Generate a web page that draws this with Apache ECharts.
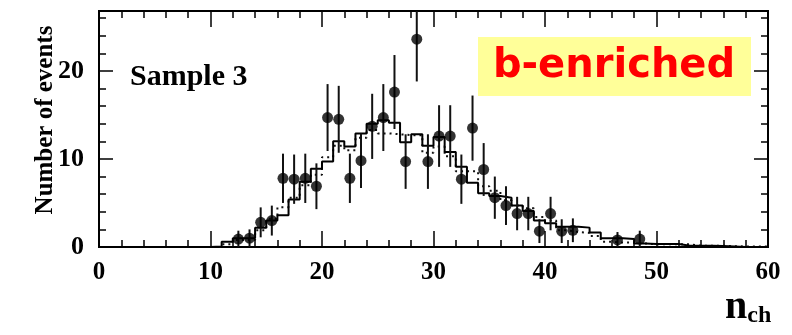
<!DOCTYPE html>
<html>
<head>
<meta charset="utf-8">
<script src="https://cdn.jsdelivr.net/npm/echarts@6/dist/echarts.min.js"></script>
<style>
  html, body { margin: 0; padding: 0; background: #fff; }
  #chart { width: 792px; height: 335px; }
</style>
</head>
<body>
<div id="chart"></div>
<script>
// bin left edges 0..59, width 1
const binEdges = [
  0, 1, 2, 3, 4, 5, 6, 7, 8, 9, 10, 11, 12, 13, 14, 15, 16, 17, 18, 19,
  20, 21, 22, 23, 24, 25, 26, 27, 28, 29, 30, 31, 32, 33, 34, 35, 36, 37, 38, 39,
  40, 41, 42, 43, 44, 45, 46, 47, 48, 49, 50, 51, 52, 53, 54, 55, 56, 57, 58, 59
];
// solid histogram (prediction)
const mcSolid = [
  0, 0, 0, 0, 0, 0, 0, 0, 0, 0, 0.05, 0.6, 1.0, 1.0, 2.2, 3.0, 3.6, 5.4, 7.4, 8.9,
  9.7, 12.0, 11.4, 12.9, 14.0, 14.4, 14.1, 11.9, 12.8, 11.5, 12.5, 10.8, 9.1, 7.3, 6.1, 5.8, 5.6, 4.7, 4.1, 3.0,
  2.7, 2.3, 2.3, 2.2, 1.65, 1.0, 1.0, 0.9, 0.4, 0.35, 0.35, 0.35, 0.15, 0.15, 0.15, 0.1, 0.05, 0, 0, 0
];
// dotted histogram
const mcDotted = [
  0, 0, 0, 0, 0, 0, 0, 0, 0, 0, 0, 0.3, 0.8, 0.8, 1.9, 3.2, 4.5, 5.6, 7.0, 8.2,
  10.2, 11.5, 11.0, 12.4, 13.3, 12.9, 12.8, 12.7, 12.7, 10.7, 11.4, 10.3, 8.6, 8.6, 6.9, 6.4, 5.3, 4.7, 4.4, 3.4,
  3.0, 1.9, 1.7, 1.6, 1.25, 0.6, 0.5, 0.5, 0.4, 0.3, 0.3, 0.3, 0.3, 0.15, 0.15, 0.15, 0.1, 0.05, 0.05, 0.05
];
// data points
const dataX = [
  12.5, 13.5, 14.5, 15.5, 16.5, 17.5, 18.5, 19.5, 20.5, 21.5, 22.5, 23.5, 24.5, 25.5, 26.5, 27.5,
  28.5, 29.5, 30.5, 31.5, 32.5, 33.5, 34.5, 35.5, 36.5, 37.5, 38.5, 39.5, 40.5, 41.5, 42.5, 46.5, 48.5
];
const dataY = [
  0.9, 1.0, 2.8, 3.0, 7.8, 7.7, 7.8, 6.9, 14.7, 14.5, 7.8, 9.8, 13.7, 14.7, 17.6, 9.7,
  23.6, 9.7, 12.6, 12.6, 7.7, 13.5, 8.8, 5.6, 4.7, 3.8, 3.8, 1.8, 3.8, 1.8, 1.9, 0.8, 0.9
];
const dataErr = [
  0.95, 1.0, 1.7, 1.7, 2.8, 2.8, 2.8, 2.6, 3.8, 3.8, 2.8, 3.1, 3.7, 3.8, 4.2, 3.1,
  4.8, 3.1, 3.5, 3.5, 2.8, 3.7, 3.0, 2.4, 2.2, 1.9, 1.9, 1.35, 1.9, 1.35, 1.35, 0.9, 0.95
];
const xTicks = ["0", "10", "20", "30", "40", "50", "60"];
const yTicks = ["0", "10", "20"];

const X_MAX = 60;
const Y_MAX = 26.8;
const serif = "Liberation Serif";

function histLine(vals) {
  let pts = binEdges.map((e, i) => [e, vals[i]]);
  pts.push([X_MAX, vals[vals.length - 1]]);
  return pts;
}

let chartDom = document.getElementById("chart");
let myChart = echarts.init(chartDom, null, { renderer: "canvas" });

let axisLine = { show: true, onZero: false, lineStyle: { color: "#000", width: 2 } };

function makeX(interval, tickLen, pos, labels) {
  return {
    type: "value",
    min: 0,
    max: X_MAX,
    interval: interval,
    position: pos,
    axisLine: axisLine,
    axisTick: { show: true, inside: true, length: tickLen, lineStyle: { color: "#000", width: 1.5 } },
    axisLabel: labels
      ? {
        show: true,
        margin: 13,
        color: "#000",
        fontFamily: serif,
        fontWeight: "bold",
        fontSize: 25,
        formatter: (v) => (xTicks.indexOf(String(v)) >= 0 ? String(v) : ""),
      }
      : { show: false },
    splitLine: { show: false },
  };
}

function makeY(interval, tickLen, pos, labels) {
  return {
    type: "value",
    min: 0,
    max: Y_MAX,
    interval: interval,
    position: pos,
    axisLine: axisLine,
    axisTick: { show: true, inside: true, length: tickLen, lineStyle: { color: "#000", width: 1.5 } },
    axisLabel: labels
      ? {
        show: true,
        margin: 15,
        showMaxLabel: false,
        color: "#000",
        fontFamily: serif,
        fontWeight: "bold",
        fontSize: 26,
        formatter: (v) => (yTicks.indexOf(String(v)) >= 0 ? String(v) : ""),
      }
      : { show: false },
    splitLine: { show: false },
  };
}

let option = {
  animation: false,
  backgroundColor: "#fff",
  grid: { left: 99, right: 24, top: 11, bottom: 88, containLabel: false },
  xAxis: [
    makeX(10, 16, "bottom", true),
    makeX(2, 7, "bottom", false),
    makeX(10, 16, "top", false),
    makeX(2, 7, "top", false),
  ],
  yAxis: [
    makeY(10, 14, "left", true),
    makeY(2, 7, "left", false),
    makeY(10, 14, "right", false),
    makeY(2, 7, "right", false),
  ],
  series: [
    {
      name: "dotted",
      type: "line",
      step: "end",
      symbol: "none",
      data: histLine(mcDotted),
      lineStyle: { color: "#111", width: 2, type: [2, 4] },
      z: 2,
    },
    {
      name: "solid",
      type: "line",
      step: "end",
      symbol: "none",
      data: histLine(mcSolid),
      lineStyle: { color: "#000", width: 2 },
      z: 3,
    },
    {
      name: "errors",
      type: "custom",
      data: dataX.map((x, i) => [x, dataY[i], dataErr[i]]),
      renderItem: (params, api) => {
        let top = api.coord([api.value(0), api.value(1) + api.value(2)]);
        let bot = api.coord([api.value(0), Math.max(0, api.value(1) - api.value(2))]);
        let cs = params.coordSys;
        return {
          type: "line",
          shape: { x1: top[0], y1: Math.max(top[1], cs.y), x2: bot[0], y2: bot[1] },
          style: { stroke: "#111", lineWidth: 2 },
        };
      },
      z: 4,
    },
    {
      name: "data",
      type: "scatter",
      symbol: "circle",
      symbolSize: 11,
      data: dataX.map((x, i) => [x, dataY[i]]),
      itemStyle: { color: "#000" },
      z: 5,
    },
  ],
  graphic: [
    {
      type: "text",
      left: 130,
      top: 62,
      style: { text: "Sample 3", fontFamily: serif, fontWeight: "bold", fontSize: 30, fill: "#000" },
    },
    {
      type: "group",
      left: 478,
      top: 37,
      children: [
        { type: "rect", shape: { x: 0, y: 0, width: 273, height: 59 }, style: { fill: "#ffff99" } },
        {
          type: "text",
          x: 136,
          y: 30,
          style: {
            text: "b-enriched",
            fontFamily: "DejaVu Sans",
            fontWeight: "bold",
            fontSize: 40,
            fill: "#ff0000",
            align: "center",
            verticalAlign: "middle",
          },
        },
      ],
    },
    {
      type: "text",
      x: 46,
      y: 120,
      rotation: Math.PI / 2,
      style: {
        text: "Number of events",
        fontFamily: serif,
        fontWeight: "bold",
        fontSize: 25,
        fill: "#000",
        align: "center",
        verticalAlign: "middle",
      },
    },
    {
      type: "text",
      left: 725,
      top: 288,
      style: {
        rich: {
          n: { fontFamily: serif, fontWeight: "bold", fontSize: 40, fill: "#000" },
          s: { fontFamily: serif, fontWeight: "bold", fontSize: 24, fill: "#000", padding: [16, 0, 0, 0] },
        },
        text: "{n|n}{s|ch}",
      },
    },
  ],
};

myChart.setOption(option);
</script>
</body>
</html>
